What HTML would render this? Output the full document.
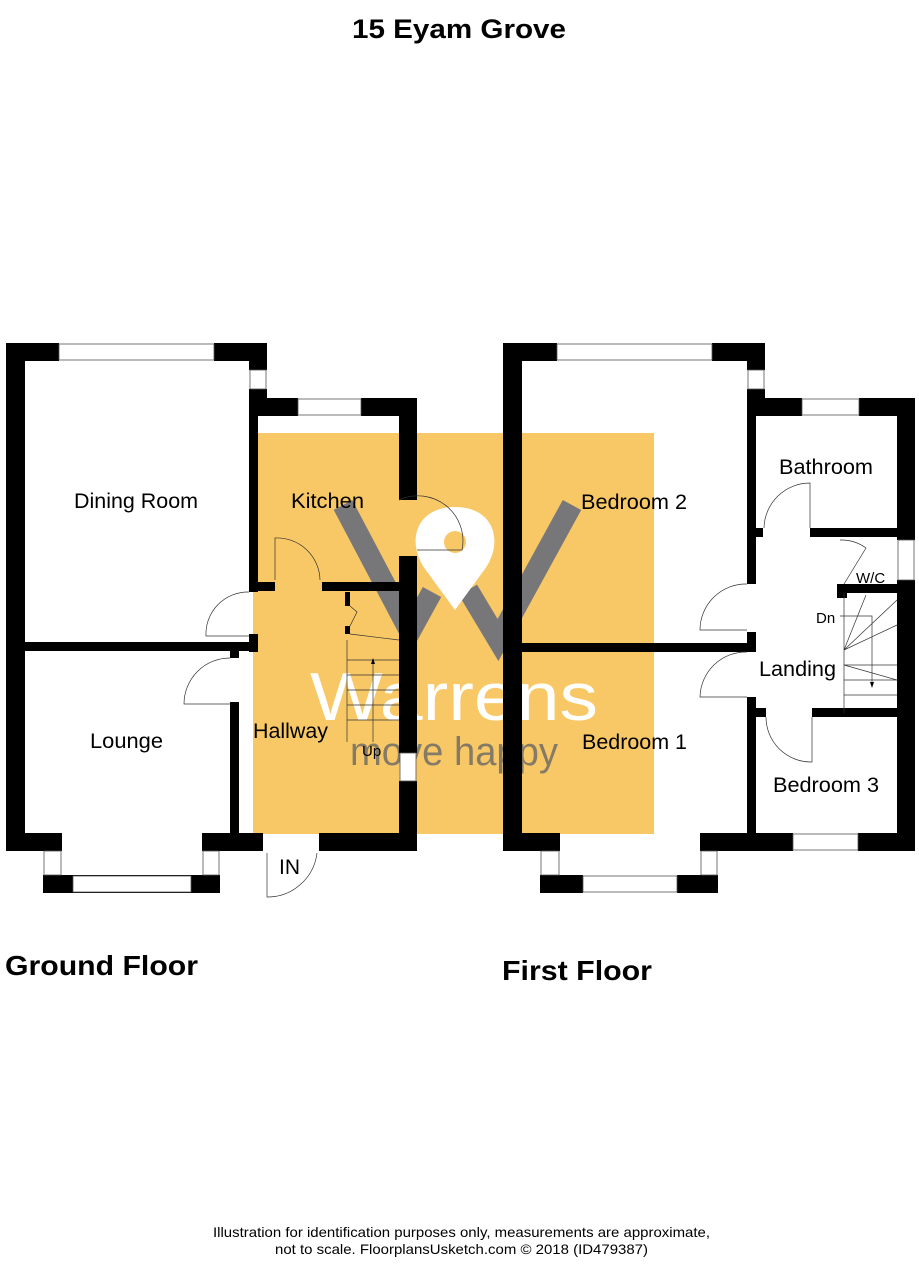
<!DOCTYPE html>
<html><head><meta charset="utf-8"><style>
html,body{margin:0;padding:0;background:#fff;}
svg{display:block;}
text{font-family:"Liberation Sans",Arial,sans-serif;}
</style></head><body>
<svg width="919" height="1280" viewBox="0 0 919 1280" xmlns="http://www.w3.org/2000/svg">
<rect width="919" height="1280" fill="#fff"/>
<text x="352" y="38" font-size="27" font-weight="bold" textLength="214" lengthAdjust="spacingAndGlyphs">15 Eyam Grove</text>

<rect x="253" y="433" width="401" height="401" fill="#f8c866"/>
<g fill="none" stroke="#77777a" stroke-width="21">
<polyline points="343,505 410,632 432,592"/>
<polyline points="468,590 498,640 572,505"/>
</g>
<path d="M455,610 L428,573 C405,545 414,507 455,507 C496,507 505,545 482,573 Z" fill="#fff"/>
<circle cx="455" cy="542" r="11" fill="#f8c866"/>
<text x="310" y="720" font-size="68" fill="#fff" textLength="288" lengthAdjust="spacingAndGlyphs">Warrens</text>
<text x="350" y="765" font-size="40" fill="#857a66" textLength="208" lengthAdjust="spacingAndGlyphs">move happy</text>

<g fill="#000">
<rect x="6" y="343" width="19" height="508"/>
<rect x="6" y="343" width="53" height="18"/>
<rect x="214" y="343" width="53" height="18"/>
<rect x="249" y="361" width="18" height="9"/>
<rect x="249" y="389" width="18" height="10"/>
<rect x="249" y="398" width="49" height="18"/>
<rect x="361" y="398" width="56" height="18"/>
<rect x="399" y="416" width="18" height="84"/>
<rect x="399" y="556" width="18" height="197"/>
<rect x="399" y="781" width="18" height="70"/>
<rect x="249" y="398" width="9" height="194"/>
<rect x="249" y="582" width="26" height="9"/>
<rect x="322" y="582" width="95" height="9"/>
<rect x="345" y="592" width="5" height="14"/>
<rect x="345" y="626" width="5" height="8"/>
<rect x="249" y="634" width="9" height="18"/>
<rect x="6" y="642" width="252" height="9"/>
<rect x="230" y="651" width="9" height="7"/>
<rect x="230" y="702" width="9" height="131"/>
<rect x="6" y="833" width="56" height="18"/>
<rect x="43" y="875" width="177" height="18"/>
<rect x="202" y="833" width="61" height="18"/>
<rect x="319" y="833" width="98" height="18"/>
</g>
<g fill="#fff" stroke="#555" stroke-width="0.8">
<rect x="59" y="344" width="155" height="16"/>
<rect x="298" y="399" width="63" height="16"/>
<rect x="250" y="370" width="16" height="19"/>
<rect x="73" y="876" width="118" height="16"/>
<rect x="44" y="851" width="17" height="24"/>
<rect x="203" y="851" width="16" height="24"/>
<rect x="400" y="753" width="16" height="28"/>
</g>
<g fill="none" stroke="#333" stroke-width="0.7">
<path d="M275,580 L275,538 A43,43 0 0 1 320,580"/>
<path d="M399,500 A45,45 0 0 1 462,550 L417,550"/>
<path d="M249,592 A42,42 0 0 0 206,636 L249,636"/>
<path d="M230,658 A46,46 0 0 0 184,704 L230,704"/>
<path d="M267,853 L267,897 A50,50 0 0 0 317,853"/>
<path d="M350,634 L399,640"/>
<path d="M347,640 L347,742"/>
<line x1="347" y1="660" x2="399" y2="660"/><line x1="347" y1="675" x2="399" y2="675"/>
<line x1="347" y1="690" x2="399" y2="690"/><line x1="347" y1="705" x2="399" y2="705"/>
<line x1="347" y1="720" x2="399" y2="720"/>
<line x1="373" y1="662" x2="373" y2="742"/>
<path d="M350,606 L357,612 L350,626"/>
</g>
<path d="M373,658 l-2,6 h4 z" fill="#000"/>

<g fill="#000">
<rect x="503" y="343" width="19" height="508"/>
<rect x="503" y="343" width="54" height="18"/>
<rect x="712" y="343" width="53" height="18"/>
<rect x="747" y="361" width="18" height="9"/>
<rect x="747" y="389" width="18" height="10"/>
<rect x="747" y="398" width="55" height="18"/>
<rect x="859" y="398" width="56" height="18"/>
<rect x="897" y="398" width="18" height="142"/>
<rect x="897" y="580" width="18" height="271"/>
<rect x="747" y="398" width="9" height="186"/>
<rect x="747" y="632" width="9" height="20"/>
<rect x="503" y="643" width="253" height="9"/>
<rect x="747" y="697" width="9" height="154"/>
<rect x="747" y="528" width="16" height="9"/>
<rect x="810" y="528" width="105" height="9"/>
<rect x="837" y="584" width="78" height="9"/>
<rect x="837" y="584" width="10" height="14"/>
<rect x="747" y="708" width="19" height="9"/>
<rect x="812" y="708" width="103" height="9"/>
<rect x="747" y="833" width="46" height="18"/>
<rect x="858" y="833" width="57" height="18"/>
<rect x="503" y="833" width="57" height="18"/>
<rect x="540" y="875" width="43" height="18"/>
<rect x="677" y="875" width="41" height="18"/>
<rect x="700" y="833" width="56" height="18"/>
</g>
<g fill="#fff" stroke="#555" stroke-width="0.8">
<rect x="557" y="344" width="155" height="16"/>
<rect x="802" y="399" width="57" height="16"/>
<rect x="748" y="370" width="16" height="19"/>
<rect x="898" y="540" width="16" height="40"/>
<rect x="793" y="834" width="65" height="16"/>
<rect x="583" y="876" width="94" height="16"/>
<rect x="541" y="851" width="18" height="24"/>
<rect x="701" y="851" width="16" height="24"/>
</g>
<g fill="none" stroke="#333" stroke-width="0.7">
<path d="M810,528 L810,483 A46,46 0 0 0 764,528"/>
<path d="M747,584 A46,46 0 0 0 700,630 L747,630"/>
<path d="M747,652 A46,46 0 0 0 700,697 L747,697"/>
<path d="M766,717 A45,45 0 0 0 812,762 L812,717"/>
<path d="M840,540 A42,42 0 0 1 866,548 L844,584"/>
<path d="M844,593 L844,713"/>
<line x1="844" y1="680" x2="897" y2="680"/><line x1="844" y1="695" x2="897" y2="695"/>
<line x1="844" y1="665" x2="897" y2="665"/>
<path d="M844,650 L866,595 M844,650 L897,600 M844,650 L897,625 M844,665 L897,680"/>
<path d="M840,616 L872,616 L872,686"/>
</g>
<path d="M872,688 l-2,-6 h4 z" fill="#000"/>

<g font-size="21" fill="#000">
<text x="74" y="508" textLength="124" lengthAdjust="spacingAndGlyphs">Dining Room</text>
<text x="291" y="508" textLength="73" lengthAdjust="spacingAndGlyphs">Kitchen</text>
<text x="90" y="748" textLength="73" lengthAdjust="spacingAndGlyphs">Lounge</text>
<text x="253" y="738" textLength="75" lengthAdjust="spacingAndGlyphs">Hallway</text>
<text x="279" y="874">IN</text>
<text x="581" y="509" textLength="106" lengthAdjust="spacingAndGlyphs">Bedroom 2</text>
<text x="582" y="749" textLength="105" lengthAdjust="spacingAndGlyphs">Bedroom 1</text>
<text x="779" y="474" textLength="94" lengthAdjust="spacingAndGlyphs">Bathroom</text>
<text x="759" y="676" textLength="77" lengthAdjust="spacingAndGlyphs">Landing</text>
<text x="773" y="792" textLength="106" lengthAdjust="spacingAndGlyphs">Bedroom 3</text>
</g>
<text x="856" y="583" font-size="15">W/C</text>
<text x="816" y="623" font-size="15">Dn</text>
<text x="362" y="756" font-size="15">Up</text>

<text x="5" y="975" font-size="28" font-weight="bold" textLength="193" lengthAdjust="spacingAndGlyphs">Ground Floor</text>
<text x="502" y="980" font-size="28" font-weight="bold" textLength="150" lengthAdjust="spacingAndGlyphs">First Floor</text>
<text x="213" y="1237" font-size="14" textLength="497" lengthAdjust="spacingAndGlyphs">Illustration for identification purposes only, measurements are approximate,</text>
<text x="275" y="1254" font-size="14" textLength="373" lengthAdjust="spacingAndGlyphs">not to scale. FloorplansUsketch.com © 2018 (ID479387)</text>
</svg>
</body></html>
